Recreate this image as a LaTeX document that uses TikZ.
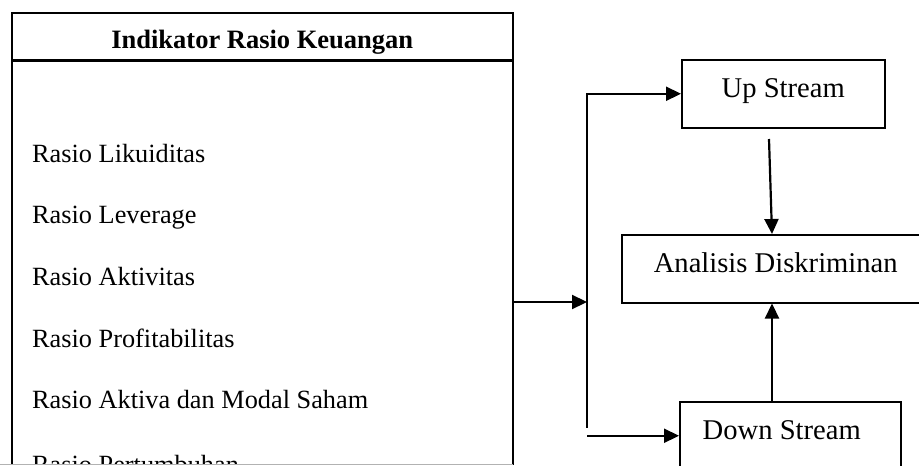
\documentclass[tikz,border=0pt]{standalone}
\usepackage{fontspec}
\setmainfont{Liberation Serif}
\usetikzlibrary{positioning,arrows.meta}

\tikzset{
  kotak/.style = {draw, line width = 1.5pt, inner xsep = 0pt, inner ysep = 0pt,
    text height = 37.5pt, text depth = 30.5pt, minimum height = 68pt,
    font = \fontsize{28.6}{32}\selectfont},
  panah/.style = {line width = 2.2pt, -{Triangle[length = 15pt, width = 14pt]}},
  isian/.style = {anchor = base west, inner sep = 0pt,
    font = \fontsize{26.3}{30}\selectfont}
}

\begin{document}
\begin{tikzpicture}[x = 1pt, y = -1pt]
    \useasboundingbox (0,0) rectangle (919,466);
    \clip (0,0) rectangle (919,466);

    % kotak indikator (terpotong di bawah)
    \begin{scope}
      \clip (0,0) rectangle (514,464);
      \node [draw, line width = 1.5pt, anchor = north west, inner sep = 0pt,
        minimum width = 501pt, minimum height = 47pt,
        text height = 36pt, text depth = 11pt,
        font = \fontsize{26.5}{30}\selectfont\bfseries]
        (judul) at (11,12) {Indikator Rasio Keuangan};
      \node [draw, line width = 1.5pt, below = 0pt of judul, inner sep = 0pt,
        minimum width = 501pt, minimum height = 486pt] (isi) {};
      \foreach \y/\teks [count = \i] in {162/Rasio Likuiditas, 223/Rasio Leverage,
          285/Rasio Aktivitas, 347/Rasio Profitabilitas,
          408/Rasio Aktiva dan Modal Saham, 473/Rasio Pertumbuhan}
        \node [isian] (rasio\i) at (32,\y) {\teks};
    \end{scope}
    \draw [gray!60, line width = 0.8pt] (0,464.5) -- (513,464.5);

    % kotak kanan
    \node [kotak, anchor = north west, minimum width = 203pt] (up) at (681,59) {Up Stream};
    \node [kotak, anchor = north west, minimum width = 308pt] (analisis) at (621,234)
      {Analisis Diskriminan};
    \node [kotak, anchor = north west, minimum width = 221pt] (down) at (679,401)
      {Down Stream\hspace*{17pt}};

    % percabangan
    \coordinate (cabang) at (587,302);
    \coordinate (atas) at (587,93);
    \coordinate (bawah) at (587,428);
    \coordinate (keluar) at (769,139);

    \draw [panah] (isi.east |- cabang) -- (cabang);
    \draw [line width = 2.2pt] (atas) -- (bawah);
    \draw [panah] (up.west -| atas) -- (up.west);
    \draw [panah] (down.west -| atas) -- (down.west);
    \draw [panah] (keluar) -- ([xshift = 151pt]analisis.north west);
    \draw [panah] ([xshift = 93pt]down.north west) -- ([xshift = 151pt]analisis.south west);
  \end{tikzpicture}
\end{document}
